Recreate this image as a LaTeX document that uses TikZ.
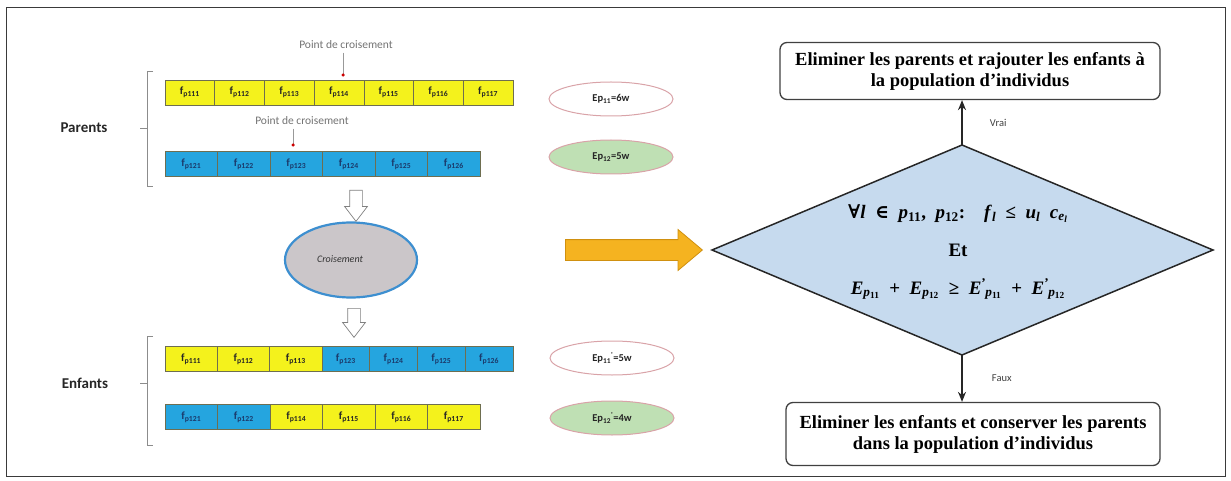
\documentclass[tikz,border=0pt]{standalone}
\usepackage{fontspec}
\setmainfont{Liberation Serif}
\newfontfamily\calib{Carlito}
\newfontfamily\symfont{DejaVu Serif}
\usetikzlibrary{shapes.geometric,shapes.arrows,arrows.meta}

\definecolor{cellyellow}{HTML}{F4F21C}
\definecolor{cellblue}{HTML}{25A5DF}
\definecolor{celledge}{HTML}{6E6E50}
\definecolor{bluetext}{HTML}{1B3A6B}
\definecolor{pinkedge}{HTML}{D9A3A8}
\definecolor{epgreen}{HTML}{BFE0B4}
\definecolor{crossfill}{HTML}{CBC6C9}
\definecolor{crossedge}{HTML}{3D8FD0}
\definecolor{orangefill}{HTML}{F5B320}
\definecolor{orangeedge}{HTML}{D0900F}
\definecolor{diafill}{HTML}{C6DAEE}
\definecolor{framegray}{HTML}{3A3A3A}

% italic variable with subscript
\newcommand{\var}[2]{\textit{#1}\textsubscript{#2}}
% cell label f_{p...}
\newcommand{\gene}[1]{{\bfseries f}\textsubscript{\bfseries p#1}}
\newcommand{\rel}[1]{\enspace#1\enspace}
% primed energy E'_{p..}
\newcommand{\eprime}[1]{\textit{E}\textsuperscript{'}\kern-1pt\textsubscript{\textit{p}\textsubscript{#1}}}

\tikzset{
  cellbase/.style={draw=celledge, line width=0.6pt, minimum height=25pt, inner sep=0pt,
    font=\calib\fontsize{11}{12}\selectfont},
  cellY/.style={cellbase, fill=cellyellow, text=black!85},
  cellB/.style={cellbase, fill=cellblue, text=bluetext},
  crosslabel/.style={font=\calib\fontsize{11.5}{13}\selectfont, text=black!55},
  crosstick/.style={draw=black!40, line width=0.6pt},
  crossdot/.style={circle, fill=red!80!black, inner sep=0pt, minimum size=3.5pt},
  grouplabel/.style={font=\calib\bfseries\fontsize{15}{17}\selectfont, text=black!85},
  brace/.style={draw=black!45, line width=0.7pt},
  epnode/.style={ellipse, draw=pinkedge, line width=1pt, minimum width=124pt, minimum height=34pt,
    inner sep=0pt, font=\calib\bfseries\fontsize{10.5}{12}\selectfont, text=black!85},
  openarrow/.style={single arrow, draw=black!50, fill=white, line width=0.7pt,
    shape border rotate=270, minimum width=22pt, inner sep=6pt,
    single arrow head extend=5pt, single arrow tip angle=75, anchor=tail},
  resultbox/.style={draw=black!75, line width=1.3pt, rounded corners=7pt, align=center,
    font=\bfseries\fontsize{18.5}{21}\selectfont},
  decisionshape/.style={draw=black!85, line width=1.5pt, fill=diafill, line join=miter},
  decisiontext/.style={align=center, font=\bfseries\fontsize{19}{22}\selectfont, inner sep=0pt},
  flow/.style={-{Stealth[length=10pt,width=8pt]}, line width=1.3pt, draw=black!85},
  flowlabel/.style={font=\calib\fontsize{10.5}{12}\selectfont, text=black!75}
}

\begin{document}
\begin{tikzpicture}[x=1pt,y=-1pt]
\useasboundingbox (0,0) rectangle (1231,481);
\draw[framegray, line width=0.8pt] (6,7) rectangle (1225,476);

% ---- parent 1 (yellow)
\foreach \i/\lab in {1/111,2/112,3/113,4/114,5/115,6/116,7/117}
  \node[cellY, minimum width=49.7pt] (pa\i) at ({165+49.7*(\i-0.5)},92.5) {\gene{\lab}};
% ---- parent 2 (blue)
\foreach \i/\lab in {1/121,2/122,3/123,4/124,5/125,6/126}
  \node[cellB, minimum width=52.5pt] (pb\i) at ({165+52.5*(\i-0.5)},164) {\gene{\lab}};

% crossover points
\node[crosslabel] (pc1) at (346,45) {Point de croisement};
\coordinate (pc1end) at (343,75);
\draw[crosstick] (pc1.south -| pc1end) -- (pc1end);
\node[crossdot] (pc1dot) at (pc1end) {};
\node[crosslabel] (pc2) at (302,121) {Point de croisement};
\coordinate (pc2end) at (293,145);
\draw[crosstick] (pc2.south -| pc2end) -- (pc2end);
\node[crossdot] (pc2dot) at (pc2end) {};

% parents brace and label
\node[grouplabel] (par) at (84,128) {Parents};
\draw[brace] (153,71) -- (147,71) -- (147,186) -- (153,186);
\draw[brace] (147,128) -- (140,128);

% energy of the parents
\node[epnode, fill=white] (ep1) at (611,99) {Ep\textsubscript{11}=6w};
\node[epnode, fill=epgreen] (ep2) at (611,157) {Ep\textsubscript{12}=5w};

% crossover operator
\node[ellipse, draw=crossedge, line width=2.2pt, fill=crossfill, minimum width=132pt, minimum height=75pt]
  (cross) at (351,260) {};
\node[font=\calib\itshape\fontsize{10}{12}\selectfont, text=black!80] (crosstext) at (340,259) {Croisement};
\node[openarrow, minimum height=31pt] (dn1) at (356,190) {};
\node[openarrow, minimum height=29pt] (dn2) at (354,308) {};

% ---- child 1
\foreach \i/\lab in {1/111,2/112,3/113}
  \node[cellY, minimum width=52.3pt] (ca\i) at ({165+52.3*(\i-0.5)},359) {\gene{\lab}};
\foreach \i/\lab in {1/123,2/124,3/125,4/126}
  \node[cellB, minimum width=47.75pt] (cb\i) at ({322+47.75*(\i-0.5)},359) {\gene{\lab}};
% ---- child 2
\foreach \i/\lab in {1/121,2/122}
  \node[cellB, minimum width=52.5pt] (da\i) at ({165+52.5*(\i-0.5)},417) {\gene{\lab}};
\foreach \i/\lab in {1/114,2/115,3/116,4/117}
  \node[cellY, minimum width=52.5pt] (db\i) at ({270+52.5*(\i-0.5)},417) {\gene{\lab}};

% children brace and label
\node[grouplabel] (enf) at (85,383) {Enfants};
\draw[brace] (153,336) -- (147,336) -- (147,445) -- (153,445);
\draw[brace] (147,383) -- (140,383);

% energy of the children
\node[epnode, fill=white] (ep3) at (612,358) {Ep\textsubscript{11}\textsuperscript{'}=5w};
\node[epnode, fill=epgreen] (ep4) at (612,418) {Ep\textsubscript{12}\textsuperscript{'}=4w};

% transition arrow
\node[single arrow, draw=orangeedge, fill=orangefill, line width=0.8pt, anchor=tail,
  minimum height=137pt, minimum width=40pt, inner sep=10pt, single arrow head extend=10pt,
  single arrow tip angle=80]
  (go) at (565,250) {};

% decision: rhombus and its condition
\coordinate (diaW) at (712,250);
\coordinate (diaE) at (1213,250);
\coordinate (diaN) at (962,145);
\coordinate (diaS) at (962,355);
\draw[decisionshape] (diaW) -- (diaN) -- (diaE) -- (diaS) -- cycle;
\node[decisiontext] (cond) at (958,252)
  {{\symfont∀}\textit{l}\rel{{\symfont∈}}\var{p}{11},\enspace\var{p}{12}:\quad\var{f}{\textit{l}}\rel{≤}\var{u}{\textit{l}}\enspace\var{c}{\textit{e\textsubscript{l}}}\\[16pt]
   Et\\[16pt]
   \var{E}{\textit{p}\textsubscript{11}}\rel{+}\var{E}{\textit{p}\textsubscript{12}}\rel{≥}\eprime{11}\rel{+}\eprime{12}};

\node[resultbox, minimum width=380pt, minimum height=57pt] (keep) at (970,71)
  {Eliminer les parents et rajouter les enfants à\\la population d’individus};
\node[resultbox, minimum width=374pt, minimum height=63pt] (drop) at (973,434)
  {Eliminer les enfants et conserver les parents\\dans la population d’individus};

\draw[flow] (diaN) -- (diaN |- keep.south) node[midway, right=24pt, flowlabel] {Vrai};
\draw[flow] (diaS) -- (diaS |- drop.north) node[midway, right=26pt, flowlabel] {Faux};
\end{tikzpicture}
\end{document}
